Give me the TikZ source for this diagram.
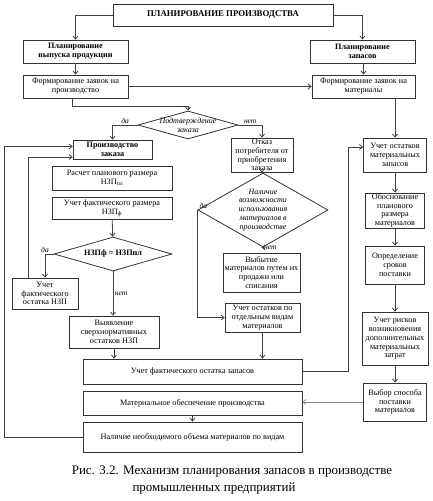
\documentclass[tikz,border=0pt]{standalone}
\usepackage{fontspec}
\setmainfont{Liberation Serif}
\usetikzlibrary{shapes.geometric, arrows.meta, positioning, calc}

\begin{document}
\begin{tikzpicture}[
        x=1pt, y=-1pt,
        box/.style={rectangle, draw=black!80, line width=0.8pt, fill=white, align=center, inner sep=0.5pt, font=\fontsize{8.2}{8.8}\selectfont},
        bbox/.style={box, font=\fontsize{8.2}{8.8}\selectfont\bfseries},
        dia/.style={diamond, draw=black!80, line width=0.8pt, inner sep=0pt},
        dtext/.style={align=center, inner sep=0pt, font=\fontsize{8}{8.8}\selectfont\itshape},
        lbl/.style={font=\fontsize{7.5}{8}\selectfont\itshape, inner sep=1.5pt},
        arr/.style={-{Straight Barb[length=3pt, width=5pt]}, line width=0.8pt, draw=black!75},
        ln/.style={line width=0.8pt, draw=black!75}
    ]
        \useasboundingbox (0,0) rectangle (433,501);

        % Top level
        \node[bbox, font=\fontsize{8.8}{10}\selectfont\bfseries, minimum width=220pt, minimum height=22pt] (plan) at (223,15) {ПЛАНИРОВАНИЕ ПРОИЗВОДСТВА};
        \node[bbox, minimum width=105pt, minimum height=23pt] (vyp) at (75.5,51.5) {Планирование\\выпуска продукции};
        \node[bbox, minimum width=105pt, minimum height=23pt] (zap) at (362.5,51.5) {Планирование\\запасов};
        \node[box, minimum width=105pt, minimum height=23pt] (zpr) at (75.5,86.5) {Формирование заявок на\\производство};
        \node[box, minimum width=103pt, minimum height=23pt] (zmat) at (363.5,86.5) {Формирование заявок на\\материалы};

        % Order confirmation
        \node[dia, minimum width=100pt, minimum height=28pt, label={[dtext]center:{Подтверждение\\заказа}}] (d1) at (188,125) {};

        % Left column (work in progress)
        \node[bbox, minimum width=79pt, minimum height=19pt] (prz) at (112.5,149.5) {Производство\\заказа};
        \node[box, minimum width=120pt, minimum height=24pt] (rasch) at (112,178) {Расчет планового размера\\НЗП\textsubscript{пл}};
        \node[box, minimum width=120pt, minimum height=22pt] (fakt) at (112,208) {Учет фактического размера\\НЗП\textsubscript{ф}};
        \node[dia, minimum width=118pt, minimum height=34pt, label={[dtext, font=\fontsize{8.2}{8.8}\selectfont\bfseries]center:{НЗПф = НЗПпл}}] (d2) at (113,254) {};
        \node[box, minimum width=66pt, minimum height=31pt] (ostNZP) at (45,293.5) {Учет\\фактического\\остатка НЗП};
        \node[box, minimum width=90pt, minimum height=32pt] (vyyav) at (114,332) {Выявление\\сверхнормативных\\остатков НЗП};

        % Middle column (refusal)
        \node[box, minimum width=62pt, minimum height=34pt] (otkaz) at (262,155) {Отказ\\потребителя от\\приобретения\\заказа};
        \node[dia, minimum width=130pt, minimum height=74pt, label={[dtext]center:{Наличие\\возможности\\использования\\материалов в\\производстве}}] (d3) at (263,210) {};
        \node[box, minimum width=77pt, minimum height=39pt] (vybyt) at (261.5,272.5) {Выбытие\\материалов путем их\\продажи или\\списания};
        \node[box, minimum width=75pt, minimum height=29pt] (ostVid) at (262.5,317.5) {Учет остатков по\\отдельным видам\\материалов};

        % Bottom rows
        \node[box, minimum width=219pt, minimum height=25pt] (ostZap) at (192.5,371.5) {Учет фактического остатка запасов};
        \node[box, minimum width=219pt, minimum height=24pt] (mob) at (192.5,403) {Материальное обеспечение производства};
        \node[box, minimum width=219pt, minimum height=30pt] (nal) at (192.5,437) {Наличие необходимого объема материалов по видам};

        % Right column (materials)
        \node[box, minimum width=63pt, minimum height=34pt] (r1) at (395,155) {Учет остатков\\материальных\\запасов};
        \node[box, minimum width=59pt, minimum height=35pt] (r2) at (395,210.5) {Обоснование\\планового\\размера\\материалов};
        \node[box, minimum width=59pt, minimum height=38pt] (r3) at (395,265) {Определение\\сроков\\поставки};
        \node[box, minimum width=66pt, minimum height=53pt] (r4) at (395,338.5) {Учет рисков\\возникновения\\дополнительных\\материальных\\затрат};
        \node[box, minimum width=63pt, minimum height=38pt] (r5) at (395,402) {Выбор способа\\поставки\\материалов};

        % Caption
        \node[font=\fontsize{13}{15}\selectfont] (cap1) at (232,472) {Рис. 3.2. Механизм планирования запасов в производстве};
        \node[font=\fontsize{13}{15}\selectfont] (cap2) at (214,488) {промышленных предприятий};

        % Top connections
        \draw[arr] (plan.west) -| (vyp.north);
        \draw[arr] (plan.east) -| (zap.north);
        \draw[arr] (vyp) -- (zpr);
        \draw[arr] (zap.south -| zmat.north) -- (zmat.north);
        \draw[arr] (zpr.east) -- (zmat.west);
        \draw[arr] ([xshift=-3pt]zpr.south) -- ++(0,8) -| (d1.north);
        \draw[arr] (zmat.south -| r1.north) -- (r1.north);

        % Decision on the order
        \draw[arr] (d1.west) -| node[lbl, above, pos=0.25] {да} (prz.north);
        \draw[arr] (d1.east) -| node[lbl, above, pos=0.25] {нет} (otkaz.north);

        % Left branch
        \draw[arr] (fakt) -- (d2);
        \draw[arr] (d2.west) -| node[lbl, above, pos=0.5] {да} (ostNZP.north);
        \draw[arr] (d2.south) -- node[lbl, right, pos=0.5] {нет} (d2.south |- vyyav.north);
        \draw[arr] ([xshift=-17pt]ostNZP.north) |- ([yshift=-7.5pt]prz.west);
        \draw[arr] (vyyav.south) -- (vyyav.south |- ostZap.north);

        % Middle branch
        \draw[arr] (otkaz.south) -- (otkaz.south |- d3.north);
        \draw[arr] (d3.west) |- node[lbl, above right, pos=0] {да} (ostVid.west);
        \draw[arr] (d3.south) -- node[lbl, right, pos=0.5] {нет} (d3.south -| vybyt.north);
        \draw[arr] (ostVid.south) -- (ostVid.south |- ostZap.north);

        % Right branch
        \draw[arr] (ostZap.east) -- ++(46,0) |- ([yshift=8pt]r1.west);
        \draw[arr] (r1) -- (r2);
        \draw[arr] (r2) -- (r3);
        \draw[arr] (r3) -- (r4);
        \draw[arr] (r4) -- (r5);
        \draw[arr, draw=black!45] (r5.west) -- (r5.west -| mob.east);

        % Bottom
        \draw[arr] (mob) -- (nal);
        \draw[arr] (nal.west) -- ++(-78,0) |- ([yshift=3pt]prz.west);
    \end{tikzpicture}
\end{document}
